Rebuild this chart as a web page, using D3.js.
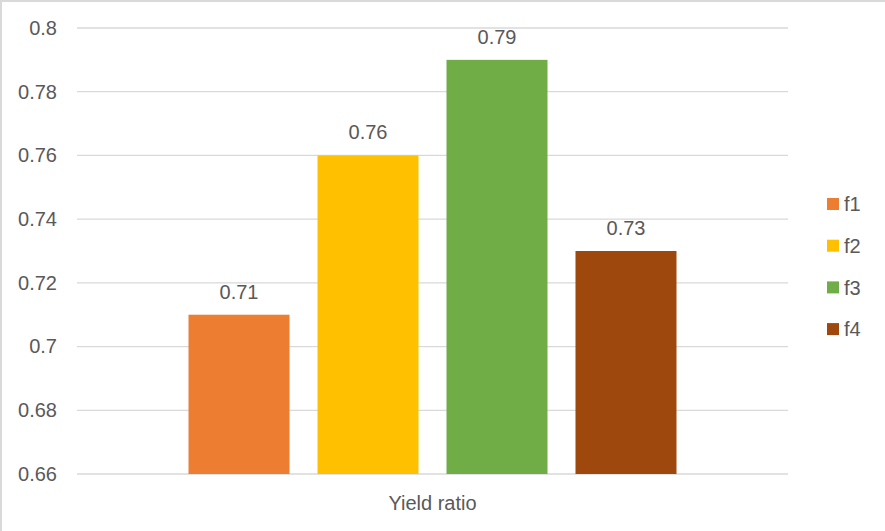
<!DOCTYPE html>
<html>
<head>
<meta charset="utf-8">
<script src="https://cdn.jsdelivr.net/npm/d3@7/dist/d3.min.js"></script>
<style>
  html, body { margin: 0; padding: 0; background: #fff; }
  svg { display: block; }
  text { font-family: "Liberation Sans", Arial, sans-serif; fill: #595959; }
</style>
</head>
<body>
<svg id="chart" width="885" height="531"></svg>
<script>
// Chart data
const categories = ["Yield ratio"];
const seriesNames = ["f1", "f2", "f3", "f4"];
const seriesValues = [0.71, 0.76, 0.79, 0.73];
const seriesColors = ["#ED7D31", "#FFC000", "#70AD47", "#9E480E"];
const yTicks = [0.66, 0.68, 0.70, 0.72, 0.74, 0.76, 0.78, 0.80];
const yTickLabels = ["0.66", "0.68", "0.7", "0.72", "0.74", "0.76", "0.78", "0.8"];

const svg = d3.select("#chart");
const W = 885, H = 531;
const plot = { left: 77, right: 788, top: 28, bottom: 474 };

// Frame edges (top and left)
svg.append("line").attr("x1", 1).attr("x2", 1).attr("y1", 0).attr("y2", H)
  .attr("stroke", "#d9d9d9").attr("stroke-width", 2);
svg.append("line").attr("x1", 0).attr("x2", W).attr("y1", 1).attr("y2", 1)
  .attr("stroke", "#d9d9d9").attr("stroke-width", 2);

const y = d3.scaleLinear().domain([0.66, 0.80]).range([plot.bottom, plot.top]);

const x0 = d3.scaleBand().domain(categories)
  .range([plot.left, plot.right]).padding(0.186);
const x1 = d3.scaleBand().domain(seriesNames)
  .range([0, x0.bandwidth()]).paddingInner(0.217).paddingOuter(0);

// Gridlines
svg.append("g").selectAll("line").data(yTicks).join("line")
  .attr("x1", plot.left).attr("x2", plot.right)
  .attr("y1", d => y(d)).attr("y2", d => y(d))
  .attr("stroke", "#d9d9d9").attr("stroke-width", 1.3);

// Y axis labels
const yAxis = d3.axisLeft(y).tickValues(yTicks)
  .tickFormat((d, i) => yTickLabels[i]).tickSize(0).tickPadding(20);
const gy = svg.append("g").attr("transform", `translate(${plot.left},0)`).call(yAxis);
gy.select(".domain").remove();
gy.selectAll("text").attr("font-size", 20)
  .attr("font-family", "Liberation Sans, Arial, sans-serif").attr("fill", "#595959");

// Bars
const data = seriesNames.map((s, i) => ({ name: s, value: seriesValues[i], color: seriesColors[i] }));
const group = svg.append("g").attr("transform", `translate(${x0(categories[0])},0)`);
group.selectAll("rect").data(data).join("rect")
  .attr("x", d => x1(d.name))
  .attr("width", x1.bandwidth())
  .attr("y", d => y(d.value))
  .attr("height", d => y(0.66) - y(d.value))
  .attr("fill", d => d.color);

// Value labels
group.selectAll("text.val").data(data).join("text")
  .attr("class", "val")
  .attr("x", d => x1(d.name) + x1.bandwidth() / 2)
  .attr("y", d => y(d.value) - 16)
  .attr("text-anchor", "middle")
  .attr("font-size", 20)
  .text(d => d.value.toFixed(2));

// Category axis label
svg.append("text")
  .attr("x", x0(categories[0]) + x0.bandwidth() / 2)
  .attr("y", 510)
  .attr("text-anchor", "middle")
  .attr("font-size", 20)
  .text(categories[0]);

// Legend
const legend = svg.append("g").attr("transform", "translate(827,198)");
const items = legend.selectAll("g").data(data).join("g")
  .attr("transform", (d, i) => `translate(0,${i * 41.7})`);
items.append("rect").attr("width", 12).attr("height", 12).attr("fill", d => d.color);
items.append("text").attr("x", 17).attr("y", 6).attr("dy", "0.36em")
  .attr("font-size", 20).text(d => d.name);
</script>
</body>
</html>
